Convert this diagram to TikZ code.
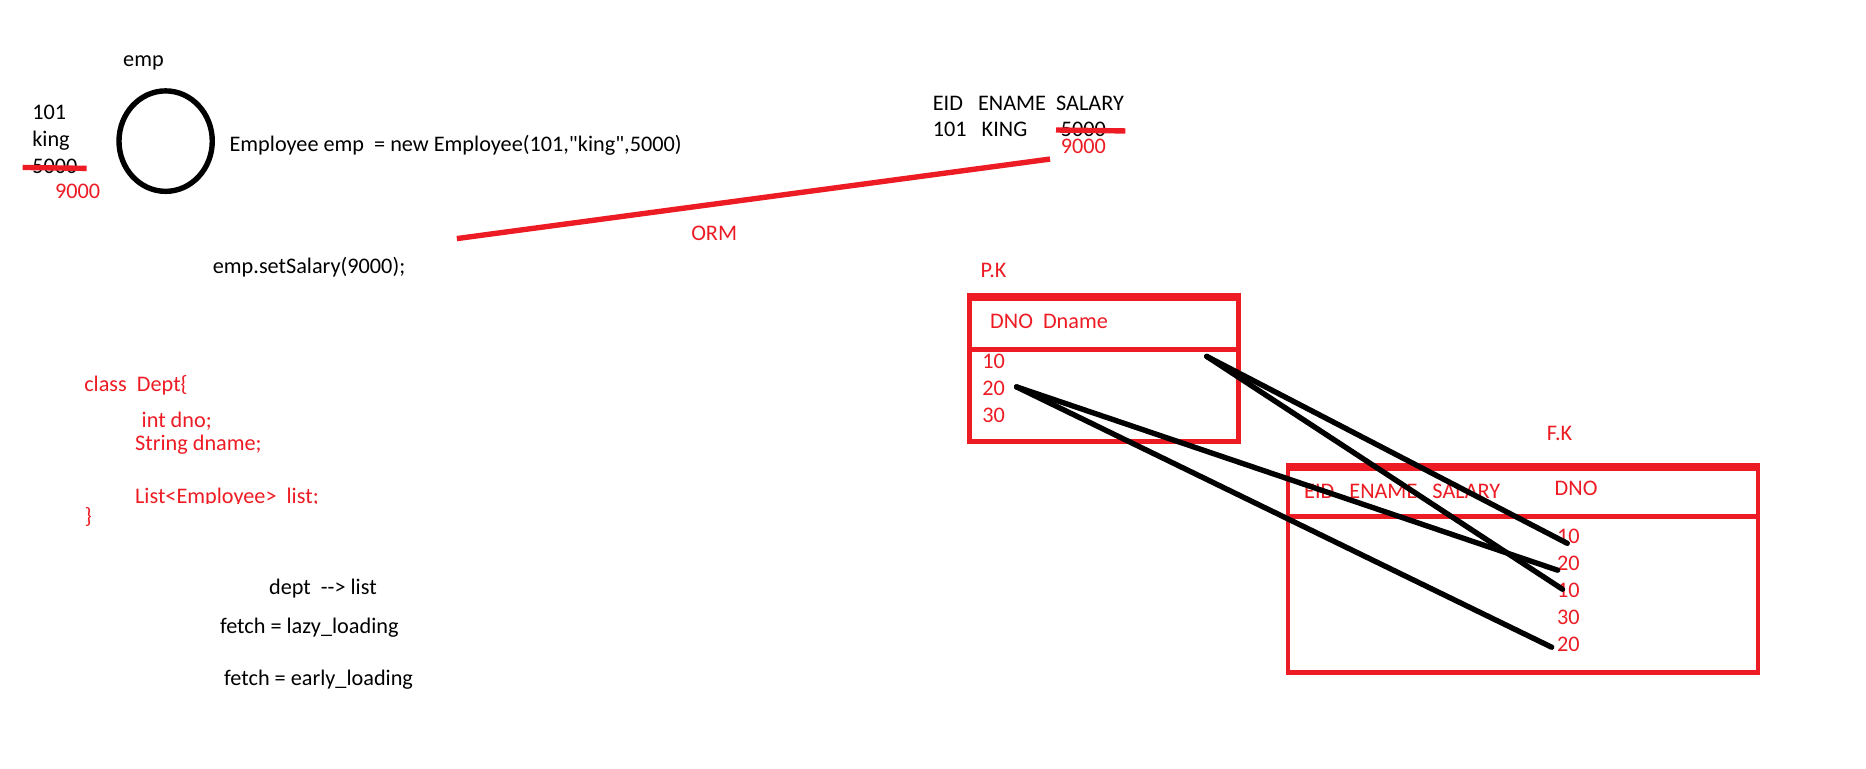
\documentclass[tikz,border=0pt]{standalone}
\usepackage{fontspec}
\setmainfont{Carlito}[Ligatures=TeXOff]
\usetikzlibrary{shapes.geometric}
\definecolor{paintred}{HTML}{ED1C24}
\begin{document}
\begin{tikzpicture}[x=1pt,y=-1pt,
  txt/.style={anchor=base west, inner sep=0pt, outer sep=0pt, font=\fontsize{18.6}{22}\selectfont, text=black},
  rtxt/.style={txt, text=paintred},
  redstroke/.style={draw=paintred, line width=4.5pt},
  blkstroke/.style={draw=black, line width=4.5pt, line cap=round},
  tablebox/.style={draw=paintred, line width=3.8pt},
  topband/.style={draw=paintred, line width=6.8pt},
]
\useasboundingbox[fill=white] (0,0) rectangle (1560.3,643);

% object
\node[txt] (emplbl) at (103,56) {emp};
\node[ellipse, draw, line width=4.5pt, minimum width=78pt, minimum height=84pt, inner sep=0pt] (obj) at (138.5,118) {};
\node[txt] (v101) at (27,100.3) {101};
\node[txt] (vking) at (27,122.6) {king};
\node[txt] (v5000) at (27,145) {5000};
\coordinate (s1a) at (19,140);
\coordinate (s1b) at (72.5,140.8);
\draw[redstroke] (s1a) -- (s1b);
\node[rtxt] (v9000) at (46,165.8) {9000};
\node[txt] (code) at (192,126.8) {Employee emp\ \ = new Employee(101,"king",5000)};
\node[txt] (setsal) at (178,229) {emp.setSalary(9000);};

% ORM
\coordinate (orma) at (382,199.5);
\coordinate (ormb) at (878,133);
\draw[redstroke] (orma) -- (ormb);
\node[rtxt] (orm) at (578,200.7) {ORM};

% employee row
\node[txt] (thead) at (780,92.5) {EID\ \ \ ENAME\ \ SALARY};
\node[txt] (trow) at (780,114.3) {101\ \ \ KING};
\node[txt] (t5000) at (887,114.3) {5000};
\coordinate (s2a) at (883,108.7);
\coordinate (s2b) at (941,109.5);
\draw[redstroke] (s2a) -- (s2b);
\node[rtxt] (t9000) at (887,128.2) {9000};

% P.K table
\node[rtxt] (pk) at (820,231.9) {P.K};
\draw[tablebox] (810.5,248) rectangle (1035.5,369.2);
\draw[topband] (808.6,248) -- (1037.4,248);
\draw[tablebox] (810.5,292.2) -- (1035.5,292.2);
\node[rtxt] (pkhead) at (828,274.5) {DNO\ \ Dname};
\node[rtxt] (pk10) at (821.5,308) {10};
\node[rtxt] (pk20) at (821.5,330.8) {20};
\node[rtxt] (pk30) at (821.5,353.4) {30};

% F.K table
\node[rtxt] (fk) at (1293.5,368.4) {F.K};
\draw[tablebox] (1077,390.5) rectangle (1470,562.3);
\draw[topband] (1075.1,390.5) -- (1471.9,390.5);
\draw[tablebox] (1077,431.7) -- (1470,431.7);
\node[rtxt] (fkhead) at (1090.5,416.6) {EID\ \ \ ENAME\ \ \ SALARY};
\node[rtxt] (fkdno) at (1300,414.7) {DNO};
\node[rtxt] (fk1) at (1302,454.3) {10};
\node[rtxt] (fk2) at (1302,477.3) {20};
\node[rtxt] (fk3) at (1302,499.6) {10};
\node[rtxt] (fk4) at (1302,521.9) {30};
\node[rtxt] (fk5) at (1302,545) {20};

% relations
\coordinate (pa) at (1009,298);
\coordinate (pb) at (850,323.5);
\coordinate (e1) at (1310.5,454.3);
\coordinate (e2) at (1302.5,476.8);
\coordinate (e3) at (1306.5,492.7);
\coordinate (e4) at (1297.5,541.2);
\draw[blkstroke] (pa) -- (e1);
\draw[blkstroke] (pa) -- (e3);
\draw[blkstroke] (pb) -- (e2);
\draw[blkstroke] (pb) -- (e4);

% class Dept
\node[rtxt] (cls) at (70.5,327.5) {class\ \ Dept\{};
\node[rtxt] (fdno) at (118.5,357.6) {int dno;};
\node[rtxt] (fdname) at (113,376.3) {String dname;};
\begin{scope}
\clip (100,395) rectangle (400,420.8);
\node[rtxt] (flist) at (113,420.8) {List<Employee>\ \ list;};
\end{scope}
\node[rtxt] (clsend) at (71,438) {\}};

% fetch
\node[txt] (dl) at (225,497.5) {dept\ \ -{}-> list};
\node[txt] (lazy) at (184,529.5) {fetch = lazy\_loading};
\node[txt] (early) at (187.5,573.6) {fetch = early\_loading};
\end{tikzpicture}
\end{document}
